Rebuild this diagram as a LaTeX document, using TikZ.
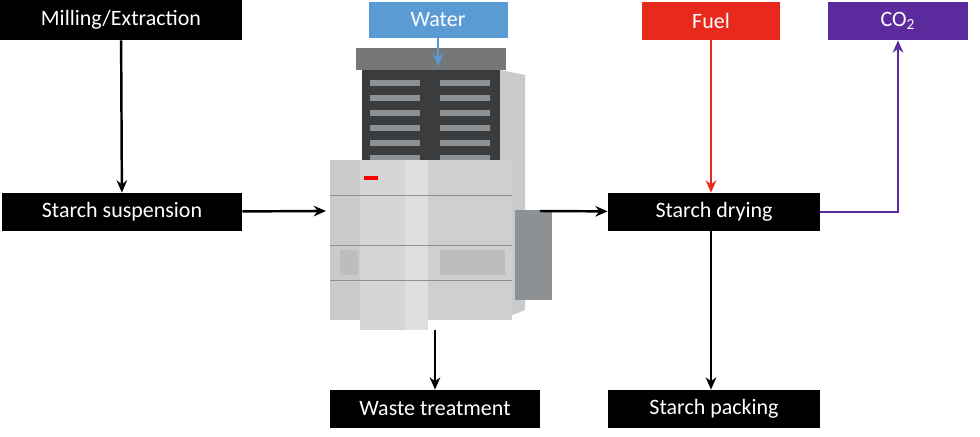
\documentclass[tikz,border=0pt]{standalone}
\usepackage{fontspec}
\setmainfont{Carlito}
\usetikzlibrary{positioning, arrows.meta}
\definecolor{waterblue}{HTML}{5B9BD5}
\definecolor{fuelred}{HTML}{E8291C}
\definecolor{cotwo}{HTML}{5B2A9C}
\definecolor{metal}{HTML}{C8CACC}
\definecolor{metaldark}{HTML}{8E9194}
\definecolor{frame}{HTML}{3A3C3E}

\begin{document}
\begin{tikzpicture}[x=0.02cm, y=-0.02cm,
    box/.style 2 args={fill=black, text=white, inner sep=0pt, font=\fontsize{12.5}{15}\selectfont,
        minimum width=#1*0.02cm, minimum height=#2*0.02cm},
    flow/.style={-{Stealth[length=7pt,width=6pt]}, line width=1.4pt}]
    \useasboundingbox (0,0) rectangle (980,436);

    % process boxes
    \node[box={242}{40}] (mill) at (121,20) {Milling/Extraction};
    \node[box={139}{36}, fill=waterblue] (water) at (438,20) {Water};
    \node[box={138}{38}, fill=fuelred] (fuel) at (711,21) {Fuel};
    \node[box={140}{38}, fill=cotwo] (co2) at (898,21) {CO\textsubscript{2}};
    \node[box={240}{38}] (susp) at (122,212) {Starch suspension};
    \node[box={212}{38}] (dry) at (714,212) {Starch drying};
    \node[box={210}{38}] (waste) at (435,409) {Waste treatment};
    \node[box={212}{38}] (pack) at (714,409) {Starch packing};

    % the filter machine (picture)
    \fill[frame] (362,62) rectangle (500,170);
    \fill[frame!70] (356,48) rectangle (506,70);
    \foreach \y in {80,95,...,155} {
        \fill[metaldark] (370,\y) rectangle (420,\y+6);
        \fill[metaldark] (440,\y) rectangle (490,\y+6);
    }
    \fill[metal] (500,70) -- (525,75) -- (525,310) -- (500,320) -- cycle;
    \fill[metaldark] (515,210) rectangle (552,300);
    \fill[metal] (330,160) rectangle (360,320);
    \fill[metal!80] (360,160) rectangle (405,330);
    \fill[metal!60] (405,160) rectangle (428,330);
    \fill[metal!90] (428,160) rectangle (512,320);
    \draw[metaldark] (330,195) -- (512,195) (330,245) -- (512,245) (330,280) -- (512,280);
    \fill[metaldark!60] (340,250) rectangle (358,275);
    \fill[metaldark!60] (440,250) rectangle (505,275);
    \fill[red] (364,176) rectangle (378,180);
    \coordinate (mtop) at (438,66);
    \coordinate (mleft) at (326,211);
    \coordinate (mright) at (540,211);
    \coordinate (mbot) at (435,330);

    % connectors
    \draw[flow] (mill) -- (susp);
    \draw[flow] (susp) -- (mleft);
    \draw[flow, waterblue] (water) -- (mtop);
    \draw[flow] (mright) -- (dry);
    \draw[flow, fuelred] (fuel) -- (dry.north -| fuel);
    \draw[flow, cotwo] (dry) -| (co2);
    \draw[flow] (mbot) -- (waste);
    \draw[flow] (dry.south -| fuel) -- (pack.north -| fuel);
\end{tikzpicture}
\end{document}
